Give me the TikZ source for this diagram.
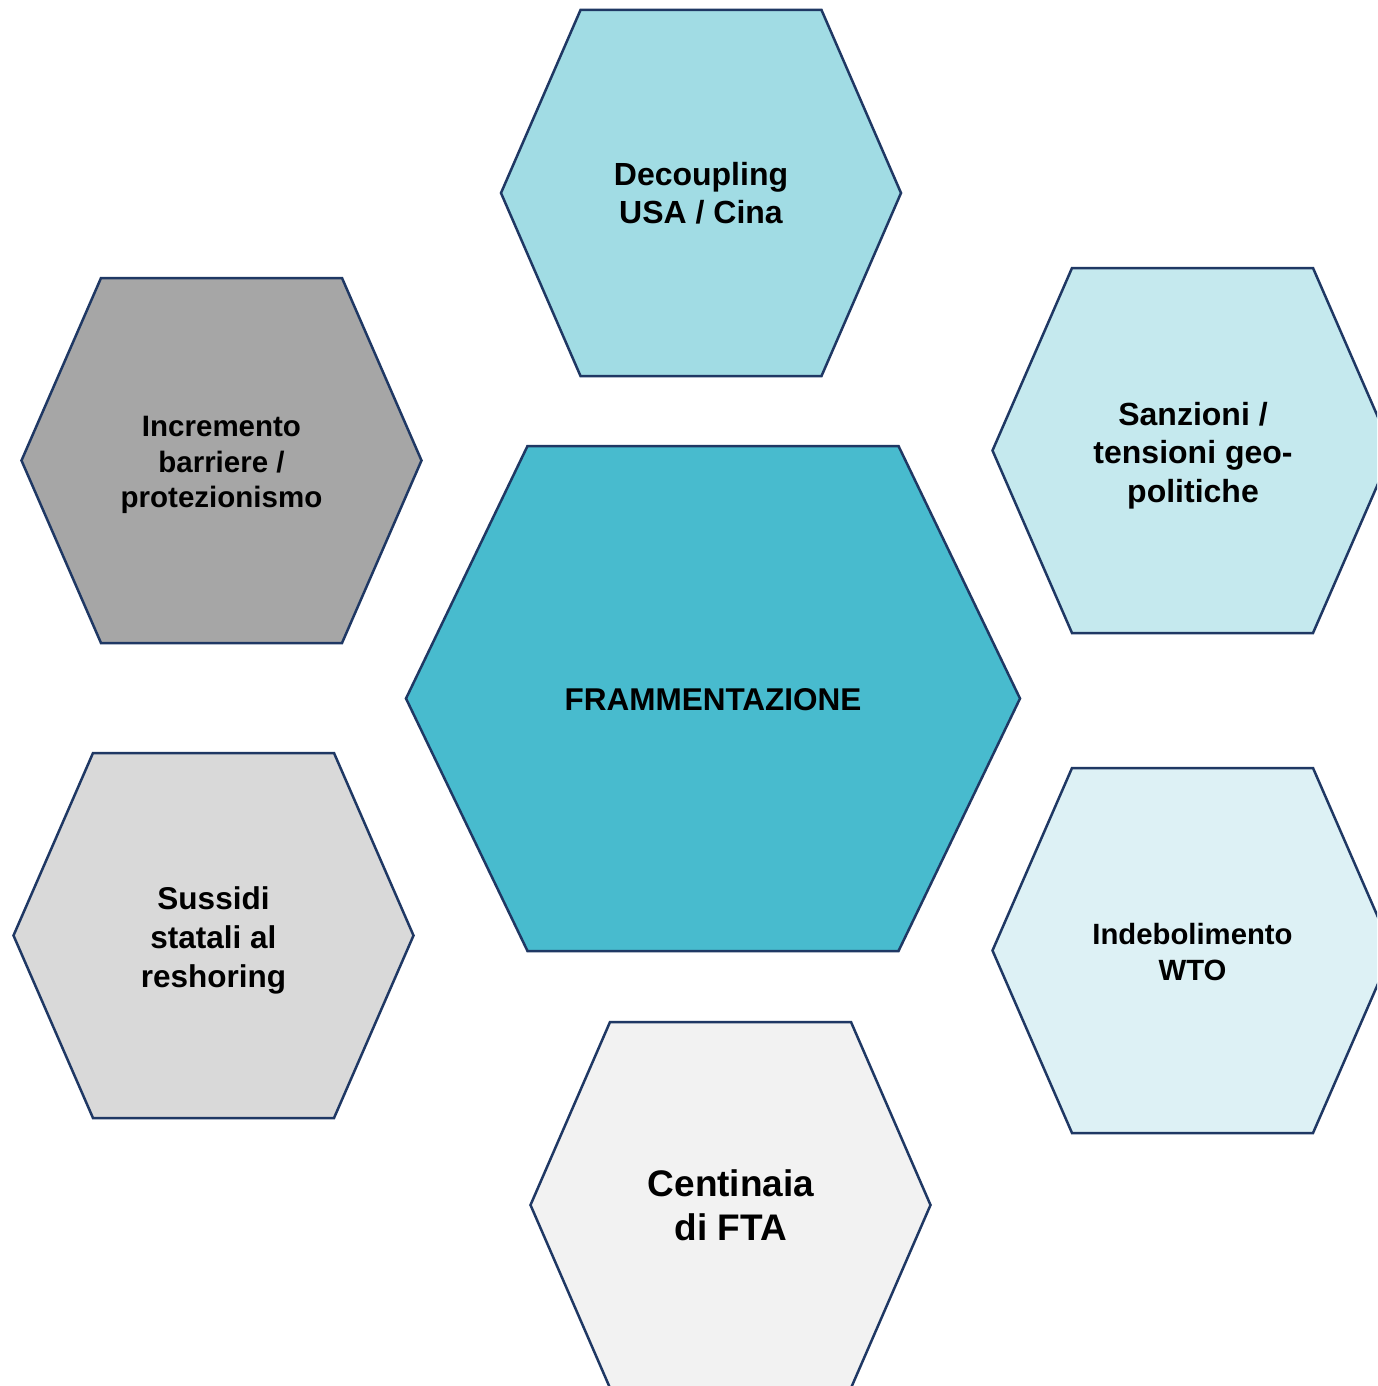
\documentclass[tikz,border=0pt]{standalone}
\usepackage{fontspec}
\setmainfont{Liberation Sans}
\definecolor{edgeblue}{HTML}{1F3864}
\definecolor{cTop}{HTML}{A1DCE4}
\definecolor{cGray}{HTML}{A6A6A6}
\definecolor{cCore}{HTML}{48BBCE}
\definecolor{cRight}{HTML}{C5E9EE}
\definecolor{cLight}{HTML}{D9D9D9}
\definecolor{cPale}{HTML}{DDF1F5}
\definecolor{cWhite}{HTML}{F2F2F2}
% \hexcell{cx}{cy}{half top edge}{half width}{half height}{fill}
\newcommand\hexcell[6]{%
  \draw[hexedge, fill=#6]
    (#1-#3,#2-#5) -- (#1+#3,#2-#5) -- (#1+#4,#2) --
    (#1+#3,#2+#5) -- (#1-#3,#2+#5) -- (#1-#4,#2) -- cycle;}
\tikzset{
  hexedge/.style={draw=edgeblue, line width=2.5pt, line join=miter},
  hexlabel/.style={align=center, font=\bfseries, text=black, inner sep=0pt}
}
\begin{document}
\begin{tikzpicture}[x=1pt, y=-1pt]
\useasboundingbox (0,0) rectangle (1377,1386);
\fill[white] (0,0) rectangle (1377,1386);
\begin{scope}
\clip (0,0) rectangle (1377,1386);
% outer ring of hexagons
\hexcell{701}{193}{120.5}{200}{183}{cTop}
\hexcell{221.5}{460.5}{120.5}{200}{182.5}{cGray}
\hexcell{1192.5}{450.5}{120.5}{200}{182.5}{cRight}
\hexcell{213.5}{935.5}{120.5}{200}{182.5}{cLight}
\hexcell{1192.5}{950.5}{120.5}{200}{182.5}{cPale}
\hexcell{730.5}{1205}{120.5}{200}{183}{cWhite}
% central hexagon
\hexcell{713}{698.5}{185.5}{307}{252.5}{cCore}
\end{scope}
% labels
\node[hexlabel, font=\bfseries\fontsize{32}{38}\selectfont] (decoupling) at (701,193.5) {Decoupling\\USA / Cina};
\node[hexlabel, font=\bfseries\fontsize{29.5}{35.5}\selectfont] (barriere) at (221.5,465) {Incremento\\barriere /\\protezionismo};
\node[hexlabel, font=\bfseries\fontsize{32}{38.5}\selectfont] (sanzioni) at (1193,455.5) {Sanzioni /\\tensioni geo-\\politiche};
\node[hexlabel, font=\bfseries\fontsize{31.5}{38}\selectfont] (core) at (713,700) {FRAMMENTAZIONE};
\node[hexlabel, font=\bfseries\fontsize{31.5}{39}\selectfont] (sussidi) at (213.5,940) {Sussidi\\statali al\\reshoring};
\node[hexlabel, font=\bfseries\fontsize{29.3}{36}\selectfont] (wto) at (1192.5,952) {Indebolimento\\WTO};
\node[hexlabel, font=\bfseries\fontsize{37}{44}\selectfont] (fta) at (731,1205) {Centinaia\\di FTA};
\end{tikzpicture}
\end{document}
